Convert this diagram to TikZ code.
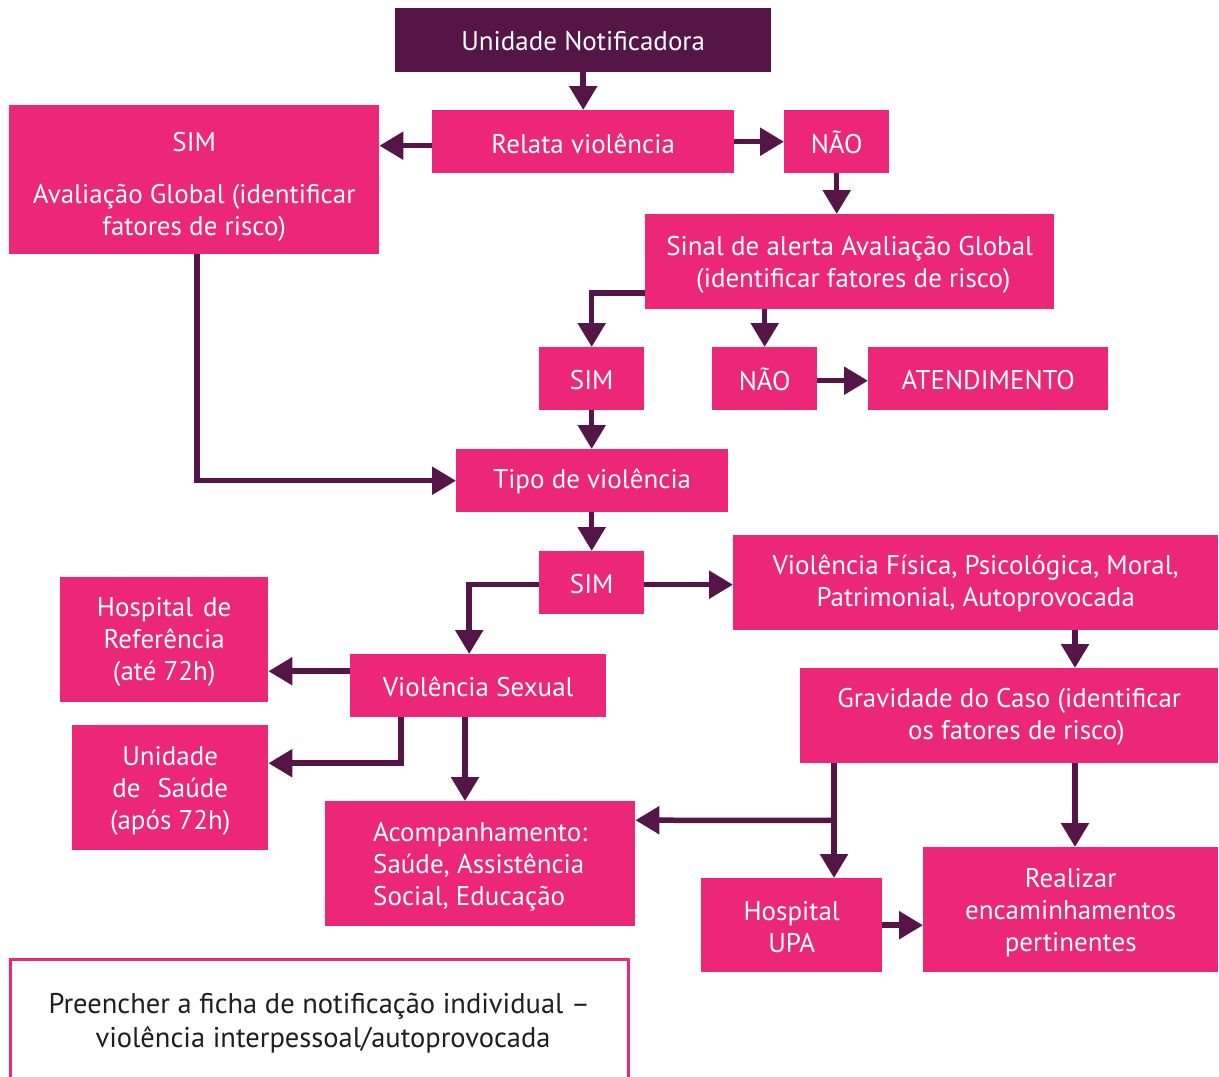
\documentclass[tikz,border=0pt]{standalone}
\usepackage{fontspec}
\setmainfont{PT Sans}
\usetikzlibrary{arrows.meta,calc}
\definecolor{pinkbox}{HTML}{EC2777}
\definecolor{purp}{HTML}{561547}
\newcommand\mybox[9]{%
  \node[box,#1,minimum width=#6pt,minimum height=#7pt] (#3) at (#4,#5) {};
  \node[txt,#2] at ([yshift=-#8pt]#3.center) {#9};}
\begin{document}
\begin{tikzpicture}[x=1pt,y=-1pt,
  box/.style={fill=pinkbox, inner sep=0pt, anchor=north west},
  txt/.style={text=white, inner sep=0pt, align=center, font=\fontsize{27}{32}\selectfont},
  conn/.style={draw=purp, line width=5.5pt, -{Triangle[width=27pt,length=24pt]}},
]
\useasboundingbox (0,0) rectangle (1219,1077);
\clip (0,0) rectangle (1219,1077);
\fill[white] (0,0) rectangle (1219,1077);

\mybox{fill=purp}{}{unid}{395}{8}{376}{64}{1}{Unidade Notificadora}
\mybox{}{}{rel}{432}{110}{302}{63}{2}{Relata violência}
\mybox{}{}{sim1}{9}{105}{370}{149}{7}{SIM\\[20pt]Avaliação Global (identificar\\fatores de risco)}
\mybox{}{}{nao1}{784}{110}{105}{63}{1}{NÃO}
\mybox{}{}{sinal}{645}{214}{409}{95}{3}{Sinal de alerta Avaliação Global\\\ (identificar fatores de risco)}
\mybox{}{}{sim2}{539}{347}{105}{63}{1}{SIM}
\mybox{}{}{nao2}{712}{347}{105}{63}{1}{NÃO}
\mybox{}{}{atend}{868}{347}{240}{63}{1}{ATENDIMENTO}
\mybox{}{}{tipo}{456}{449}{272}{63}{1}{Tipo de violência}
\mybox{}{}{sim3}{539}{551}{105}{63}{1}{SIM}
\mybox{}{}{vfis}{733}{535}{485}{95}{1}{Violência Física, Psicológica, Moral,\\Patrimonial, Autoprovocada}
\mybox{}{}{hosp}{60}{577}{208}{125}{2}{Hospital\hspace{10pt}de\\Referência\\(até 72h)}
\mybox{}{}{vsex}{350}{654}{256}{63}{1}{Violência Sexual}
\mybox{}{}{usaude}{72}{725}{196}{125}{3}{Unidade\\de\hspace{17pt}Saúde\\(após 72h)}
\mybox{}{}{grav}{800}{668}{418}{95}{1}{Gravidade do Caso (identificar\\\ \ os fatores de risco)}
\mybox{}{align=left}{acomp}{325}{801}{310}{125}{3}{Acompanhamento:\\Saúde, Assistência\\Social, Educação}
\mybox{}{}{hupa}{701}{878}{181}{94}{2}{Hospital\\UPA}
\mybox{}{}{real}{923}{847}{295}{125}{3}{Realizar\\encaminhamentos\\pertinentes}
\mybox{fill=white, draw=pinkbox, line width=2.5pt}{text=black!88, font=\fontsize{28.5}{34}\selectfont}{fich}{9}{958}{618}{128}{0}{Preencher a ficha de notificação individual –\\\ violência interpessoal/autoprovocada}

\draw[conn] (unid.south) -- (rel.north);
\draw[conn] ([yshift=-4pt]rel.west) -- ([yshift=-4pt]sim1.east |- rel.west);
\draw[conn] (rel.east) -- (nao1.west);
\draw[conn] (nao1.south) -- (nao1.south |- sinal.north);
\draw[conn] ([yshift=-31.5pt]sinal.west) -| (sim2.north);
\draw[conn] (nao2.north |- sinal.south) -- (nao2.north);
\draw[conn] ([yshift=-2pt]nao2.east) -- ([yshift=-2pt]atend.west);
\draw[conn] (sim2.south) -- (sim2.south |- tipo.north);
\draw[conn] ([xshift=3pt]sim1.south) |- (tipo.west);
\draw[conn] (sim3.north |- tipo.south) -- (sim3.north);
\draw[conn] ([yshift=-2pt]sim3.east) -- ([yshift=-2pt]vfis.west |- sim3.east);
\draw[conn] ([yshift=-2pt]sim3.west) -| ([xshift=-9pt]vsex.north);
\draw[conn] ([yshift=14.5pt]vsex.west) -- ([yshift=14.5pt]hosp.east |- vsex.west);
\draw[conn] ([xshift=51pt]vsex.south west) |- ([yshift=24.5pt]usaude.east);
\draw[conn] ([xshift=115pt]vsex.south west) -- ([xshift=140pt]acomp.north west);
\draw[conn] ([xshift=342pt]vfis.south west) -- ([xshift=275pt]grav.north west);
\draw[conn] ([xshift=34pt]grav.south west) -- ([xshift=133pt]hupa.north west);
\draw[conn] ([xshift=34pt,yshift=-57pt]grav.south west) -- ([yshift=43.5pt]acomp.east);
\draw[conn] ([xshift=275pt]grav.south west) -- ([xshift=152pt]real.north west);
\draw[conn] (hupa.east) -- (real.west |- hupa.east);
\end{tikzpicture}
\end{document}
